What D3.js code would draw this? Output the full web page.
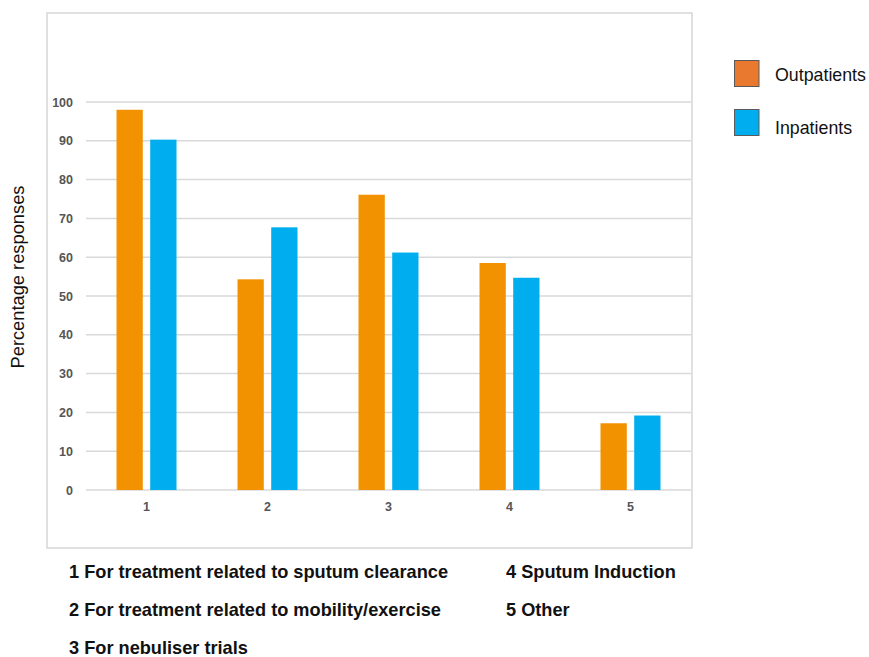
<!DOCTYPE html>
<html>
<head>
<meta charset="utf-8">
<script src="https://cdn.jsdelivr.net/npm/d3@7"></script>
<style>
  html, body { margin: 0; padding: 0; background: #fff; }
  svg { display: block; font-family: "Liberation Sans", Arial, Helvetica, sans-serif; }
</style>
</head>
<body>
<svg id="chart" width="869" height="657"></svg>
<script>
// Reasons for referral, percentage of responses by patient group
const categories = ["1", "2", "3", "4", "5"];
const outpatients = [98, 54.3, 76.1, 58.5, 17.2];
const inpatients = [90.3, 67.7, 61.2, 54.7, 19.2];
const seriesNames = ["Outpatients", "Inpatients"];
const yTicks = [0, 10, 20, 30, 40, 50, 60, 70, 80, 90, 100];
const footnotes = [
  "1 For treatment related to sputum clearance",
  "2 For treatment related to mobility/exercise",
  "3 For nebuliser trials",
  "4 Sputum Induction",
  "5 Other"
];

const barColors = ["#F39200", "#00AEEF"];
const legendColors = ["#E8792F", "#00AEEF"];

const svg = d3.select("#chart");

// outer frame around the plotting area
svg.append("rect")
  .attr("x", 47).attr("y", 13)
  .attr("width", 645).attr("height", 535)
  .attr("fill", "none")
  .attr("stroke", "#d6d6d6")
  .attr("stroke-width", 1.5);

const x0 = d3.scaleBand().domain(categories).range([86, 691]).paddingInner(0).paddingOuter(0);
const y = d3.scaleLinear().domain([0, 100]).range([490, 102]);

// horizontal grid lines
svg.append("g")
  .selectAll("line")
  .data(yTicks)
  .join("line")
  .attr("x1", 86).attr("x2", 691)
  .attr("y1", d => y(d)).attr("y2", d => y(d))
  .attr("stroke", "#d9d9d9")
  .attr("stroke-width", 1.5);

// y tick labels
const yAxis = d3.axisLeft(y).tickValues(yTicks).tickSize(0).tickPadding(0);
const gy = svg.append("g").attr("transform", "translate(73,0)").call(yAxis);
gy.select(".domain").remove();
gy.selectAll("text")
  .attr("font-family", "'Liberation Sans', Arial, sans-serif")
  .attr("font-size", 12.5)
  .attr("font-weight", "bold")
  .attr("fill", "#555");

// x category labels
const xAxis = d3.axisBottom(x0).tickSize(0).tickPadding(0);
const gx = svg.append("g").attr("transform", "translate(0,502)").call(xAxis);
gx.select(".domain").remove();
gx.selectAll("text")
  .attr("font-family", "'Liberation Sans', Arial, sans-serif")
  .attr("font-size", 12.5)
  .attr("font-weight", "bold")
  .attr("fill", "#555");

// grouped bars
const x1 = d3.scaleBand().domain(seriesNames).range([0, 60]).paddingInner(0.22);
const groups = svg.append("g")
  .selectAll("g")
  .data(categories)
  .join("g")
  .attr("transform", d => `translate(${x0(d) + x0.bandwidth() / 2 - 30},0)`);

groups.selectAll("rect")
  .data((d, i) => [outpatients[i], inpatients[i]].map((v, j) => ({ key: seriesNames[j], v, j })))
  .join("rect")
  .attr("x", d => x1(d.key))
  .attr("width", x1.bandwidth())
  .attr("y", d => y(d.v))
  .attr("height", d => y(0) - y(d.v))
  .attr("fill", d => barColors[d.j]);

// y axis title
svg.append("text")
  .attr("transform", "translate(24,277) rotate(-90)")
  .attr("text-anchor", "middle")
  .attr("font-size", 18.3)
  .attr("fill", "#111")
  .text("Percentage responses");

// legend
const legend = svg.append("g");
const swatchTop = [60, 109];
const labelBase = [80.5, 134];
seriesNames.forEach((name, i) => {
  legend.append("rect")
    .attr("x", 734.5).attr("y", swatchTop[i] + 0.5)
    .attr("width", 24.5).attr("height", 26)
    .attr("fill", legendColors[i])
    .attr("stroke", "#5a5a5a")
    .attr("stroke-width", 1);
  legend.append("text")
    .attr("x", 775).attr("y", labelBase[i])
    .attr("font-size", 17.8)
    .attr("fill", "#111")
    .text(name);
});

// category key below the chart
const notePos = [[69, 578], [69, 616], [69, 654], [506, 578], [506, 616]];
svg.append("g")
  .selectAll("text")
  .data(footnotes)
  .join("text")
  .attr("x", (d, i) => notePos[i][0])
  .attr("y", (d, i) => notePos[i][1])
  .attr("font-size", 18.2)
  .attr("font-weight", "bold")
  .attr("fill", "#111")
  .text(d => d);
</script>
</body>
</html>
